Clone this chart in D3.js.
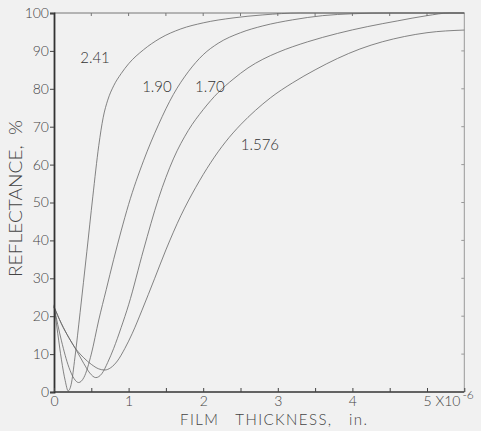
<!DOCTYPE html>
<html>
<head>
<meta charset="utf-8">
<script src="https://cdn.jsdelivr.net/npm/d3@7"></script>
<style>
  body { margin: 0; background: #f1f1f1; }
  text { font-family: Lato, "Liberation Sans", sans-serif; font-weight: 300; }
</style>
</head>
<body>
<div id="main-frame"></div>
<script>
// film thickness (10^-6 in.) vs reflectance (%), one curve per index
var indices = ["2.41", "1.90", "1.70", "1.576"];

var curve241 = [[0,23],[0.05,15.5],[0.1,8.5],[0.15,3],[0.19,0.3],[0.23,2],[0.28,9],[0.35,21],
  [0.44,37],[0.52,51.5],[0.6,65],[0.66,72.5],[0.72,77],[0.8,80.8],[0.9,84],[1.0,86.6],
  [1.2,90.3],[1.42,93.3],[1.7,95.8],[2.0,97.4],[2.4,98.7],[2.8,99.5],[3.3,100],[5.5,100]];

var curve190 = [[0,22.5],[0.1,13.5],[0.2,6.5],[0.27,3.5],[0.33,2.5],[0.4,3.8],[0.5,10],[0.6,19],
  [0.7,27],[0.8,35],[0.9,42.5],[1.0,49.5],[1.2,61],[1.4,70.5],[1.6,78.5],[1.8,84.5],[2.0,89],
  [2.2,92],[2.5,94.8],[2.8,96.6],[3.2,98.2],[3.6,99.3],[4.0,99.8],[4.5,100],[5.5,100]];

var curve170 = [[0,22.5],[0.1,18],[0.2,14.3],[0.3,11],[0.4,7.5],[0.48,5],[0.56,3.8],[0.64,4.8],
  [0.72,7.8],[0.8,11.5],[0.9,17],[1.0,23],[1.2,37.5],[1.4,51],[1.6,61.5],[1.8,69],[2.0,74.5],
  [2.2,79],[2.4,82.5],[2.6,85.5],[2.8,87.8],[3.0,89.6],[3.4,92.4],[3.8,94.6],[4.2,96.4],
  [4.6,97.9],[5.0,99.3],[5.3,100],[5.5,100]];

var curve1576 = [[0,22.5],[0.1,18],[0.2,14.3],[0.3,11.2],[0.4,9],[0.5,7.3],[0.6,6.1],[0.68,5.8],
  [0.76,6.4],[0.85,8.2],[0.95,11.5],[1.05,15.5],[1.18,21.6],[1.35,30],[1.5,37.5],[1.7,46.5],
  [1.9,54],[2.1,60.5],[2.3,66],[2.5,70.5],[2.7,74.3],[2.9,77.6],[3.2,81.6],[3.5,85],[3.8,88],
  [4.1,90.5],[4.4,92.4],[4.7,93.8],[5.0,94.8],[5.5,95.5]];

var curves = [curve241, curve190, curve170, curve1576];

// where each index is written (data units)
var labelSpots = [[0.55,86.8],[1.38,79.2],[2.09,79.2],[2.76,63.9]];

var yTicks = [0,10,20,30,40,50,60,70,80,90,100];
var xTicks = [0,0.5,1,1.5,2,2.5,3,3.5,4,4.5,5,5.5];
var xLabels = [0,1,2,3,4,5];

var width = 481, height = 431;

var mainSVG = d3.select("#main-frame")
  .append("svg")
  .attr("width", width)
  .attr("height", height);

mainSVG.append("rect")
  .attr("width", width)
  .attr("height", height)
  .attr("fill", "#f1f1f1");

var x = d3.scaleLinear().domain([0, 5]).range([54, 427]);
var y = d3.scaleLinear().domain([0, 100]).range([392, 13]);
var xRight = x(5.5);

// frame: top and right, light
mainSVG.append("line")
  .attr("x1", x(0)).attr("y1", y(100)).attr("x2", xRight).attr("y2", y(100))
  .style("stroke", "#777").style("stroke-width", 1);
mainSVG.append("line")
  .attr("x1", xRight).attr("y1", y(100)).attr("x2", xRight).attr("y2", y(0))
  .style("stroke", "#999").style("stroke-width", 1);

// top ticks inward
mainSVG.selectAll(".ttick").data(xTicks.slice(1, -1)).enter().append("line")
  .attr("x1", d => x(d)).attr("x2", d => x(d))
  .attr("y1", y(100)).attr("y2", y(100) + 3)
  .style("stroke", "#777").style("stroke-width", 1);

// right ticks inward
mainSVG.selectAll(".rtick").data(yTicks.slice(1, -1)).enter().append("line")
  .attr("x1", xRight).attr("x2", xRight - 3)
  .attr("y1", d => y(d)).attr("y2", d => y(d))
  .style("stroke", "#999").style("stroke-width", 1);

// curves
var line = d3.line()
  .x(d => x(d[0]))
  .y(d => y(d[1]))
  .curve(d3.curveMonotoneX);

mainSVG.selectAll(".curve").data(curves).enter().append("path")
  .attr("d", line)
  .style("fill", "none")
  .style("stroke", "#666")
  .style("stroke-width", 0.8);

// curve labels
mainSVG.selectAll(".clabel").data(indices).enter().append("text")
  .attr("x", (d, i) => x(labelSpots[i][0]))
  .attr("y", (d, i) => y(labelSpots[i][1]))
  .attr("text-anchor", "middle")
  .style("font-size", "15px")
  .style("fill", "#333")
  .text(d => d);

// left axis
var yAxis = d3.axisLeft(y).tickValues(yTicks).tickSize(4).tickPadding(1);
var gy = mainSVG.append("g").attr("transform", "translate(" + x(0) + ",0)").call(yAxis);
gy.select(".domain").style("stroke", "#333").style("stroke-width", 1.8);
gy.selectAll(".tick line").style("stroke", "#444");
gy.selectAll(".tick text").style("font-size", "14px").style("fill", "#444")
  .style("font-family", "Lato, sans-serif");

// bottom axis
var xAxis = d3.axisBottom(x).tickValues(xTicks).tickSize(-4).tickPadding(4)
  .tickFormat(d => xLabels.indexOf(d) >= 0 ? d : "");
var gx = mainSVG.append("g").attr("transform", "translate(0," + y(0) + ")").call(xAxis);
gx.select(".domain").attr("d", "M" + x(0) + ",0H" + xRight)
  .style("stroke", "#333").style("stroke-width", 1.5);
gx.selectAll(".tick line").style("stroke", "#444");
gx.selectAll(".tick text").style("font-size", "14px").style("fill", "#444")
  .style("font-family", "Lato, sans-serif");

var lastLabel = gx.selectAll(".tick text").filter(d => d === 5);
lastLabel.attr("text-anchor", "start").attr("x", -4);
lastLabel.append("tspan").text(" X10");
lastLabel.append("tspan").attr("dx", 2).attr("dy", "-0.6em").style("font-size", "12px").text("-6");

// axis titles
mainSVG.append("text")
  .attr("x", 180)
  .attr("y", 425)
  .attr("textLength", 187)
  .attr("lengthAdjust", "spacing")
  .style("font-size", "15px")
  .style("fill", "#444")
  .style("white-space", "pre")
  .text("FILM   THICKNESS,   in.");

mainSVG.append("text")
  .attr("transform", "translate(22,277) rotate(-90)")
  .attr("textLength", 157)
  .attr("lengthAdjust", "spacingAndGlyphs")
  .style("font-size", "18px")
  .style("fill", "#444")
  .style("white-space", "pre")
  .text("REFLECTANCE,  %");
</script>
</body>
</html>
